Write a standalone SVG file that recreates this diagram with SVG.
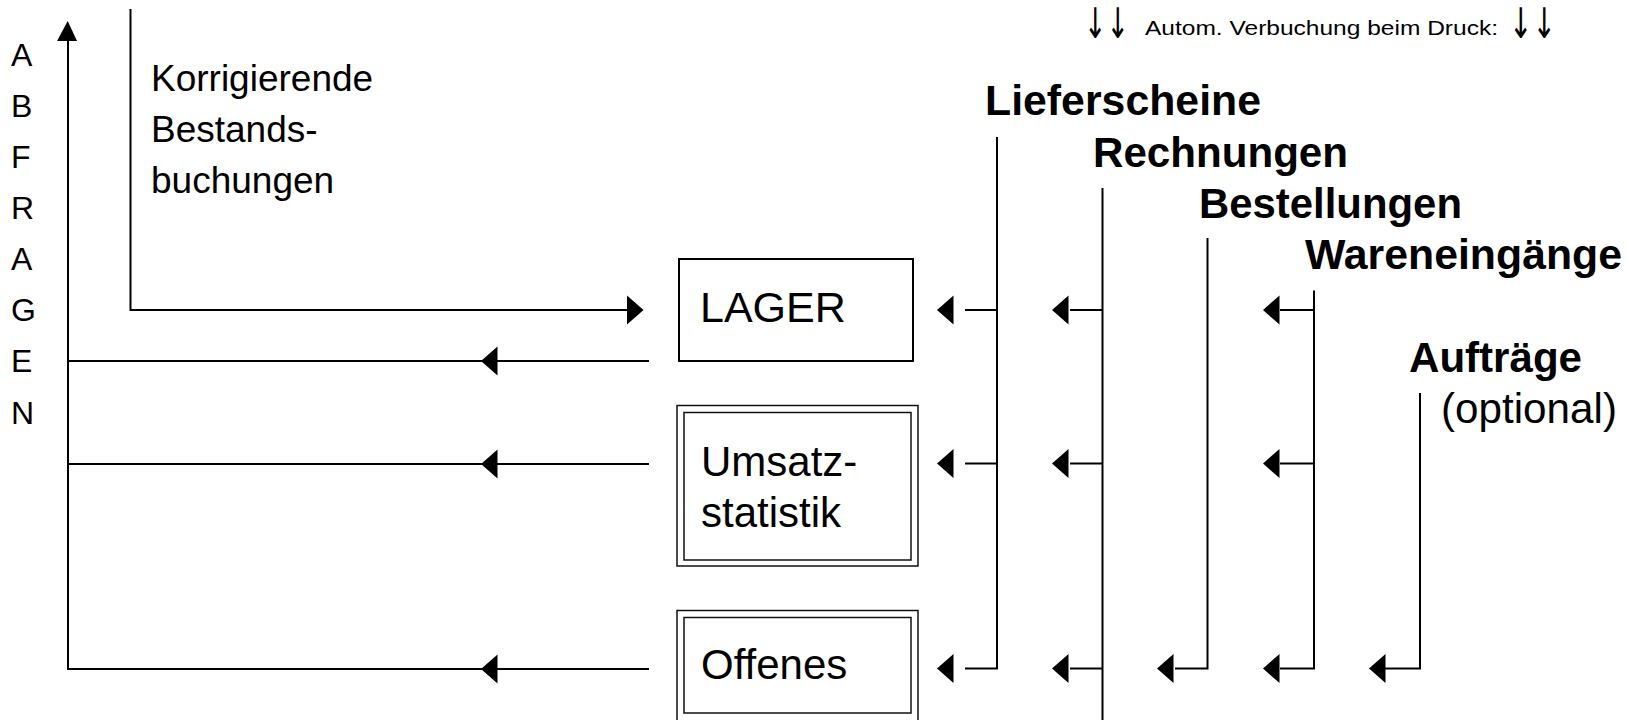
<svg xmlns="http://www.w3.org/2000/svg" width="1629" height="720" viewBox="0 0 1629 720">
<style>
.t{font-family:"Liberation Sans",Arial,Helvetica,sans-serif;fill:#000}
.b{font-weight:bold;font-size:43px}
.r{font-size:42px}
.arr{font-family:"DejaVu Sans",sans-serif;font-size:42px;fill:#000}
.ln{stroke:#000;stroke-width:2;fill:none}
.box{stroke:#000;stroke-width:2;fill:#fff}
.box2{stroke:#111;stroke-width:1.5;fill:none}
.ah{fill:#000}
</style>
<defs>
<path id="ahL" d="M0,0 L16.5,-14.5 L16.5,14.5 Z"/>
<path id="ahR" d="M0,0 L-16.5,-14.5 L-16.5,14.5 Z"/>
</defs>
<rect x="0" y="0" width="1629" height="720" fill="#fff"/>

<g id="connectors">
  <!-- left: queries (ABFRAGEN) -->
  <line class="ln" x1="68" y1="38" x2="68" y2="669"/>
  <path class="ah" d="M67.7,21 L57,41 L77,41 Z"/>
  <polyline class="ln" points="68,361 649,361"/>
  <polyline class="ln" points="68,464 649,464"/>
  <polyline class="ln" points="67,669 649,669"/>
  <use href="#ahL" x="481" y="361" class="ah"/>
  <use href="#ahL" x="481" y="464" class="ah"/>
  <use href="#ahL" x="481" y="669" class="ah"/>
  <!-- Korrigierende Bestandsbuchungen -->
  <polyline class="ln" points="130.5,9 130.5,310 630,310"/>
  <use href="#ahR" x="643.5" y="310" class="ah"/>
  <!-- Lieferscheine -->
  <polyline class="ln" points="997,137 997,668.5 965,668.5"/>
  <line class="ln" x1="965" y1="310" x2="997" y2="310"/>
  <line class="ln" x1="965" y1="463.5" x2="997" y2="463.5"/>
  <use href="#ahL" x="937" y="310" class="ah"/>
  <use href="#ahL" x="937" y="463.5" class="ah"/>
  <use href="#ahL" x="937" y="668.5" class="ah"/>
  <!-- Rechnungen -->
  <line class="ln" x1="1102.5" y1="188" x2="1102.5" y2="720"/>
  <line class="ln" x1="1070" y1="310" x2="1102.5" y2="310"/>
  <line class="ln" x1="1070" y1="463.5" x2="1102.5" y2="463.5"/>
  <line class="ln" x1="1070" y1="668.5" x2="1102.5" y2="668.5"/>
  <use href="#ahL" x="1052" y="310" class="ah"/>
  <use href="#ahL" x="1052" y="463.5" class="ah"/>
  <use href="#ahL" x="1052" y="668.5" class="ah"/>
  <!-- Bestellungen -->
  <polyline class="ln" points="1207.5,238 1207.5,668.5 1175,668.5"/>
  <use href="#ahL" x="1157" y="668.5" class="ah"/>
  <!-- Wareneingänge -->
  <polyline class="ln" points="1314,290.5 1314,668.5 1280,668.5"/>
  <line class="ln" x1="1280" y1="310" x2="1314" y2="310"/>
  <line class="ln" x1="1280" y1="463.5" x2="1314" y2="463.5"/>
  <use href="#ahL" x="1263" y="310" class="ah"/>
  <use href="#ahL" x="1263" y="463.5" class="ah"/>
  <use href="#ahL" x="1263" y="668.5" class="ah"/>
  <!-- Aufträge -->
  <polyline class="ln" points="1420,393 1420,668.5 1385,668.5"/>
  <use href="#ahL" x="1369" y="668.5" class="ah"/>
</g>

<g id="abfragen" class="t" font-size="32">
  <text x="11" y="66">A</text>
  <text x="11" y="117">B</text>
  <text x="11" y="168">F</text>
  <text x="11" y="219">R</text>
  <text x="11" y="270">A</text>
  <text x="11" y="321">G</text>
  <text x="11" y="372">E</text>
  <text x="11" y="424">N</text>
</g>

<g id="korrigierende" class="t" font-size="37">
  <text x="151" y="91">Korrigierende</text>
  <text x="151" y="142">Bestands-</text>
  <text x="151" y="193">buchungen</text>
</g>

<g id="lager">
  <rect class="box" x="679" y="259" width="234" height="102"/>
  <text class="t" x="700" y="322" font-size="43">LAGER</text>
</g>

<g id="umsatzstatistik">
  <rect class="box2" x="677" y="405.5" width="241" height="160.5"/>
  <rect class="box2" x="684" y="412.5" width="227" height="147.5"/>
  <text class="t r" x="701" y="476">Umsatz-</text>
  <text class="t r" x="701" y="527">statistik</text>
</g>

<g id="offenes">
  <rect class="box2" x="677" y="610.5" width="241" height="120"/>
  <rect class="box2" x="684" y="617.5" width="227" height="95.5"/>
  <text class="t r" x="701" y="679">Offenes</text>
</g>

<g id="header">
  <text class="arr" x="1084" y="38" textLength="45" lengthAdjust="spacingAndGlyphs">↓↓</text>
  <text class="t" x="1145" y="35" font-size="20" textLength="353" lengthAdjust="spacingAndGlyphs">Autom. Verbuchung beim Druck:</text>
  <text class="arr" x="1509" y="38" textLength="47" lengthAdjust="spacingAndGlyphs">↓↓</text>
</g>

<g id="lieferscheine"><text class="t b" x="985" y="115" textLength="276" lengthAdjust="spacingAndGlyphs">Lieferscheine</text></g>
<g id="rechnungen"><text class="t b" x="1093" y="167" textLength="255" lengthAdjust="spacingAndGlyphs">Rechnungen</text></g>
<g id="bestellungen"><text class="t b" x="1199" y="218" textLength="263" lengthAdjust="spacingAndGlyphs">Bestellungen</text></g>
<g id="wareneingaenge"><text class="t b" x="1305" y="269" textLength="317" lengthAdjust="spacingAndGlyphs">Wareneingänge</text></g>
<g id="auftraege">
  <text class="t b" x="1409" y="372" textLength="173" lengthAdjust="spacingAndGlyphs">Aufträge</text>
  <text class="t r" x="1441" y="423" textLength="176" lengthAdjust="spacingAndGlyphs">(optional)</text>
</g>
</svg>
